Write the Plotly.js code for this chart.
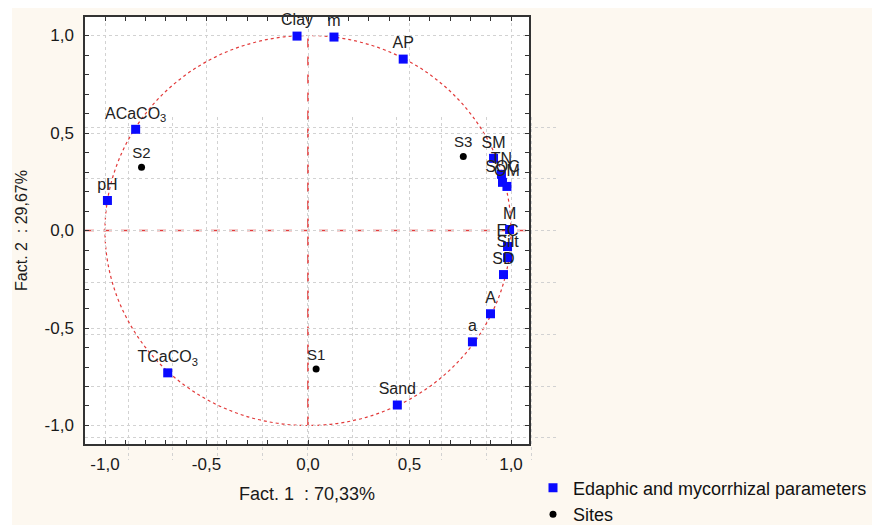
<!DOCTYPE html>
<html>
<head>
<meta charset="utf-8">
<script src="https://cdn.plot.ly/plotly-3.0.1.min.js"></script>
<style>
  html, body { margin: 0; padding: 0; background: #ffffff; overflow: hidden; }
  #chart { position: absolute; left: 12px; top: 8px; width: 860px; height: 540px; }
</style>
</head>
<body>
<div id="chart"></div>
<script>
// ---- Data ----
const paramNames = ["Clay", "m", "AP", "ACaCO<sub>3</sub>", "pH", "TCaCO<sub>3</sub>", "Sand", "a", "A",
                    "SM", "TN", "SOC", "OM", "M", "EC", "Silt", "SD"];
const paramFact1 = [-0.054, 0.128, 0.469, -0.849, -0.988, -0.691, 0.440, 0.810, 0.899,
                    0.914, 0.953, 0.958, 0.980, 0.993, 0.983, 0.983, 0.963];
const paramFact2 = [0.997, 0.992, 0.879, 0.519, 0.154, -0.730, -0.895, -0.571, -0.427,
                    0.370, 0.288, 0.247, 0.226, 0.005, -0.082, -0.139, -0.226];

const siteNames = ["S1", "S2", "S3"];
const siteFact1 = [0.040, -0.820, 0.765];
const siteFact2 = [-0.710, 0.324, 0.380];

const tickVals = [-1, -0.5, 0, 0.5, 1];
const tickText = ["-1,0", "-0,5", "0,0", "0,5", "1,0"];

const xTitle = "Fact. 1 \u00a0: 70,33%";
const yTitle = "Fact. 2 \u00a0: 29,67%";
const legendParams = "Edaphic and mycorrhizal parameters";
const legendSites = "Sites";

// ---- Styles ----
const FONT = "Liberation Sans, Arial, sans-serif";
const GRID = "#d2d2d2";
const RED = "#e23a3a";

const traces = [
  { // empty trace carrying the second (offset) background grid
    x: [], y: [], xaxis: "x", yaxis: "y", type: "scatter", mode: "markers",
    showlegend: false, hoverinfo: "skip"
  },
  {
    name: legendParams, x: paramFact1, y: paramFact2, text: paramNames,
    xaxis: "x2", yaxis: "y2", type: "scatter", mode: "markers+text",
    textposition: "top center", cliponaxis: false,
    textfont: { family: FONT, size: 16, color: "#222222" },
    marker: { symbol: "square", size: 9, color: "#0a0aff", line: { width: 0 } }
  },
  {
    name: legendSites, x: siteFact1, y: siteFact2, text: siteNames,
    xaxis: "x2", yaxis: "y2", type: "scatter", mode: "markers+text",
    textposition: "top center", cliponaxis: false,
    textfont: { family: FONT, size: 15, color: "#222222" },
    marker: { symbol: "circle", size: 7, color: "#000000", line: { width: 0 } }
  }
];

const mainAxis = {
  tickmode: "array", tickvals: tickVals, ticktext: tickText,
  ticks: "inside", ticklen: 4, tickwidth: 1, tickcolor: "#333",
  minor: { dtick: 0.1, tick0: 0, ticks: "inside", ticklen: 4, tickcolor: "#333", showgrid: false },
  showline: true, linecolor: "#333", linewidth: 1.5, mirror: "allticks",
  showgrid: true, gridcolor: GRID, griddash: "dot", gridwidth: 1,
  zeroline: false, automargin: false,
  tickfont: { family: FONT, size: 17, color: "#1a1a1a" }
};

// paper = page x 85..872, y 17..525 (div extends below the window so the legend does not push margins)
const layout = {
  width: 860, height: 540,
  margin: { l: 73, r: 0, t: 9, b: 23 },
  paper_bgcolor: "#fdf8f0",
  plot_bgcolor: "rgba(0,0,0,0)",
  showlegend: true,
  xaxis: { domain: [0, 0.60229], range: [-0.96, 9.62], dtick: 1, tick0: 0, showgrid: true,
           gridcolor: GRID, griddash: "dot", gridwidth: 1, showticklabels: false,
           zeroline: false, showline: false, ticks: "", fixedrange: true },
  yaxis: { domain: [0.12795, 0.80315], range: [-0.425, 6.197], dtick: 1, tick0: 0, showgrid: true,
           gridcolor: GRID, griddash: "dot", gridwidth: 1, showticklabels: false,
           zeroline: false, showline: false, ticks: "", fixedrange: true },
  xaxis2: Object.assign({}, mainAxis, {
    domain: [0, 0.56417], range: [-1.0985, 1.0887], anchor: "y2", ticklabelstandoff: 4,
    title: { text: xTitle, standoff: 14, font: { family: FONT, size: 18, color: "#1a1a1a" } }
  }),
  yaxis2: Object.assign({}, mainAxis, {
    domain: [0.15945, 1], range: [-1.0949, 1.0949], anchor: "x2", ticklabelstandoff: 6,
    title: { text: yTitle, standoff: 13, font: { family: FONT, size: 16, color: "#1a1a1a" } }
  }),
  legend: {
    x: 0.5693, y: 0.1091, xanchor: "left", yanchor: "top",
    bgcolor: "rgba(0,0,0,0)", borderwidth: 0,
    font: { family: FONT, size: 18, color: "#111111" }
  },
  shapes: [
    { type: "rect", xref: "x2 domain", yref: "y2 domain", x0: 0, x1: 1, y0: 0, y1: 1,
      fillcolor: "#ffffff", line: { width: 0 }, layer: "below" },
    { type: "circle", xref: "x2", yref: "y2", x0: -1, x1: 1, y0: -1, y1: 1,
      line: { color: RED, width: 1.2, dash: "dot" }, layer: "below" },
    { type: "line", xref: "x2", yref: "y2", x0: 0, x1: 0, y0: -1, y1: 1,
      line: { color: RED, width: 1.5, dash: "dash" }, layer: "below" },
    { type: "line", xref: "x2 domain", yref: "y2", x0: 0, x1: 1, y0: 0, y1: 0,
      line: { color: RED, width: 1.5, dash: "dash" }, layer: "below" }
  ]
};

Plotly.newPlot("chart", traces, layout, { displayModeBar: false });
</script>
</body>
</html>
